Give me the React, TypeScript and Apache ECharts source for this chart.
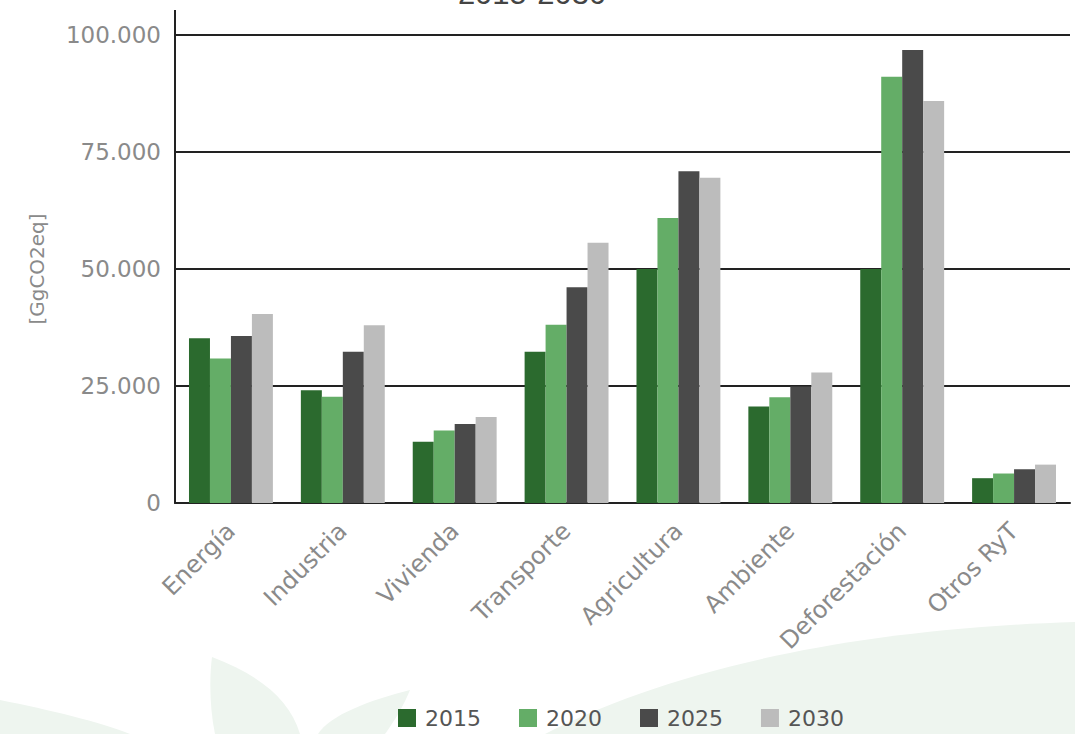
import React, { useEffect, useRef } from "react";
import * as echarts from "echarts";

const categories = ["Energía", "Industria", "Vivienda", "Transporte", "Agricultura", "Ambiente", "Deforestación", "Otros RyT"];
const years = ["2015", "2020", "2025", "2030"];
const values2015 = [35200, 24100, 13100, 32300, 50000, 20600, 50000, 5300];
const values2020 = [30900, 22700, 15500, 38100, 60900, 22600, 91100, 6300];
const values2025 = [35700, 32300, 16900, 46100, 70900, 24900, 96800, 7200];
const values2030 = [40400, 38000, 18400, 55600, 69500, 27900, 85900, 8200];
const yTicks = [0, 25000, 50000, 75000, 100000];
const yAxisName = "[GgCO2eq]";
const titleText = "2015-2030";

const colors = ["#2b6a2e", "#64ad67", "#4a4a4a", "#bcbcbc"];
const FONT = "DejaVu Sans";

const fmt = (v: number) => (v === 0 ? "0" : v.toLocaleString("de-DE"));

echarts.graphic.registerShape(
  "swoosh",
  echarts.graphic.extendPath("M 545 734 C 650 680 820 630 1075 622 L 1075 734 Z", {})
);
echarts.graphic.registerShape(
  "leaf1",
  echarts.graphic.extendPath("M 212 657 C 260 675 290 700 300 734 L 215 734 C 210 710 209 680 212 657 Z", {})
);
echarts.graphic.registerShape(
  "leaf2",
  echarts.graphic.extendPath("M 410 690 C 370 700 330 715 318 734 L 385 734 C 395 720 404 705 410 690 Z", {})
);
echarts.graphic.registerShape(
  "leaf3",
  echarts.graphic.extendPath("M 0 700 C 50 710 100 722 130 734 L 0 734 Z", {})
);

export default function App() {
  const ref = useRef<HTMLDivElement>(null);
  useEffect(() => {
    document.body.style.margin = "0";
    const chart = echarts.init(ref.current!, undefined, { renderer: "svg" });
    const seriesData = [values2015, values2020, values2025, values2030];
    const bg = "#eef5ef";
    chart.setOption({
      animation: false,
      backgroundColor: "#ffffff",
      textStyle: { fontFamily: FONT },
      grid: { left: 175, right: 5, top: 35, bottom: 231, containLabel: false },
      legend: {
        bottom: 0,
        left: 393,
        data: years,
        itemWidth: 18,
        itemHeight: 18,
        itemGap: 38,
        icon: "rect",
        textStyle: { color: "#555555", fontSize: 22, fontFamily: FONT, padding: [0, 0, 0, 4] },
      },
      xAxis: {
        type: "category",
        data: categories,
        axisLine: { show: true, lineStyle: { color: "#222222", width: 2 } },
        axisTick: { show: false },
        axisLabel: {
          interval: 0,
          rotate: 45,
          margin: 24,
          color: "#8a8a8a",
          fontSize: 24,
          fontFamily: FONT,
        },
      },
      yAxis: {
        type: "value",
        min: yTicks[0],
        max: yTicks[yTicks.length - 1],
        interval: yTicks[1] - yTicks[0],
        name: yAxisName,
        nameLocation: "middle",
        nameGap: 128,
        nameRotate: 90,
        nameTextStyle: { color: "#8a8a8a", fontSize: 20, fontFamily: FONT },
        axisLine: { show: true, lineStyle: { color: "#222222", width: 2 } },
        axisTick: { show: false },
        axisLabel: { color: "#8a8a8a", fontSize: 23, fontFamily: FONT, margin: 14, formatter: fmt },
        splitLine: { show: true, lineStyle: { color: "#222222", width: 2 } },
      },
      series: years.map((y, i) => ({
        name: y,
        type: "bar",
        data: seriesData[i],
        barGap: "0%",
        barCategoryGap: "25%",
        itemStyle: { color: colors[i] },
      })),
    });
    const top = chart.convertToPixel({ yAxisIndex: 0 }, yTicks[yTicks.length - 1]) as number;
    const x0 = chart.convertToPixel({ xAxisIndex: 0 }, 0) as number;
    const step = (chart.convertToPixel({ xAxisIndex: 0 }, 1) as number) - x0;
    const axisX = x0 - step / 2;
    chart.setOption({
      graphic: [
        { type: "swoosh", x: 0, y: 0, z: -10, silent: true, style: { fill: bg } },
        { type: "leaf1", x: 0, y: 0, z: -10, silent: true, style: { fill: bg } },
        { type: "leaf2", x: 0, y: 0, z: -10, silent: true, style: { fill: bg } },
        { type: "leaf3", x: 0, y: 0, z: -10, silent: true, style: { fill: bg } },
        {
          type: "line",
          silent: true,
          shape: { x1: axisX, y1: top - 25, x2: axisX, y2: top },
          style: { stroke: "#222222", lineWidth: 2 },
        },
        {
          type: "text",
          x: 532,
          y: 9,
          style: {
            text: titleText,
            fill: "#444444",
            fontSize: 31,
            fontFamily: "Liberation Sans",
            textAlign: "center",
            textVerticalAlign: "bottom",
          },
        },
      ],
    });
    return () => chart.dispose();
  }, []);
  return <div ref={ref} style={{ width: 1075, height: 734 }} />;
}
